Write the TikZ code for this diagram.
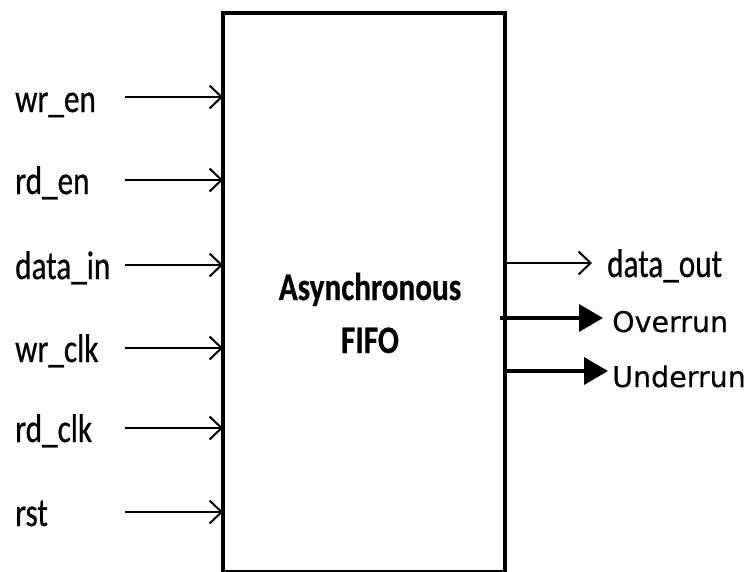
\documentclass[tikz,border=0pt]{standalone}
\usepackage{fontspec}
\usetikzlibrary{arrows.meta}
\newfontfamily\labfont[FakeStretch=0.78,FakeBold=0.6]{Carlito}
\newfontfamily\boxfont[FakeStretch=0.8,FakeBold=0.5]{Carlito}
\newfontfamily\flagfont[FakeBold=0.4]{DejaVu Sans}
\begin{document}
\begin{tikzpicture}[x=1pt,y=-1pt,
  lab/.style={anchor=base west,inner sep=0pt,font=\labfont\fontsize{40}{44}\selectfont},
  flag/.style={anchor=base west,inner sep=0pt,font=\flagfont\fontsize{28.5}{30}\selectfont},
  title/.style={anchor=base,inner sep=0pt,font=\boxfont\bfseries\fontsize{39}{44}\selectfont},
  inarr/.style={line width=1.8pt,-{Straight Barb[length=12pt,width=23pt,line width=2pt]}},
  thickarr/.style={line width=3.5pt,-{Triangle[length=24pt,width=27pt]}},
  fifobox/.style={draw,line width=4.5pt,outer sep=0pt,inner sep=0pt,
     minimum width=282pt,minimum height=559pt,anchor=north west}]
\useasboundingbox (0,0) rectangle (752,571);
\fill[white] (0,0) rectangle (752,571);
\node[fifobox] (fifo) at (223,13) {};
\node[title] (asyn) at (370,300) {Asynchronous};
\node[title] (fifoname) at (370,353) {FIFO};
% inputs
\node[lab] (wren) at (15,112) {wr\_en};
\node[lab] (rden) at (15,194) {rd\_en};
\node[lab] (din) at (15,279) {data\_in};
\node[lab] (wrclk) at (15,362) {wr\_clk};
\node[lab] (rdclk) at (15,442) {rd\_clk};
\node[lab] (rst) at (15,526) {rst};
\coordinate (s1) at (125,97);
\coordinate (s2) at (125,180);
\coordinate (s3) at (125,265);
\coordinate (s4) at (125,348);
\coordinate (s5) at (125,428);
\coordinate (s6) at (125,512);
\foreach \s in {s1,s2,s3,s4,s5,s6}
  \draw[inarr] (\s) -- (fifo.west |- \s);
% outputs
\node[lab] (dout) at (607,277) {data\_out};
\node[flag] (over) at (612,332) {Overrun};
\node[flag] (under) at (612,387) {Underrun};
\coordinate (t1) at (592,263);
\coordinate (t2) at (603,318);
\coordinate (t3) at (608,371);
\draw[inarr] (fifo.east |- t1) -- (t1);
\draw[thickarr] (fifo.east |- t2) ++(-5,0) -- (t2);
\draw[thickarr] (fifo.east |- t3) -- (t3);
\end{tikzpicture}
\end{document}
